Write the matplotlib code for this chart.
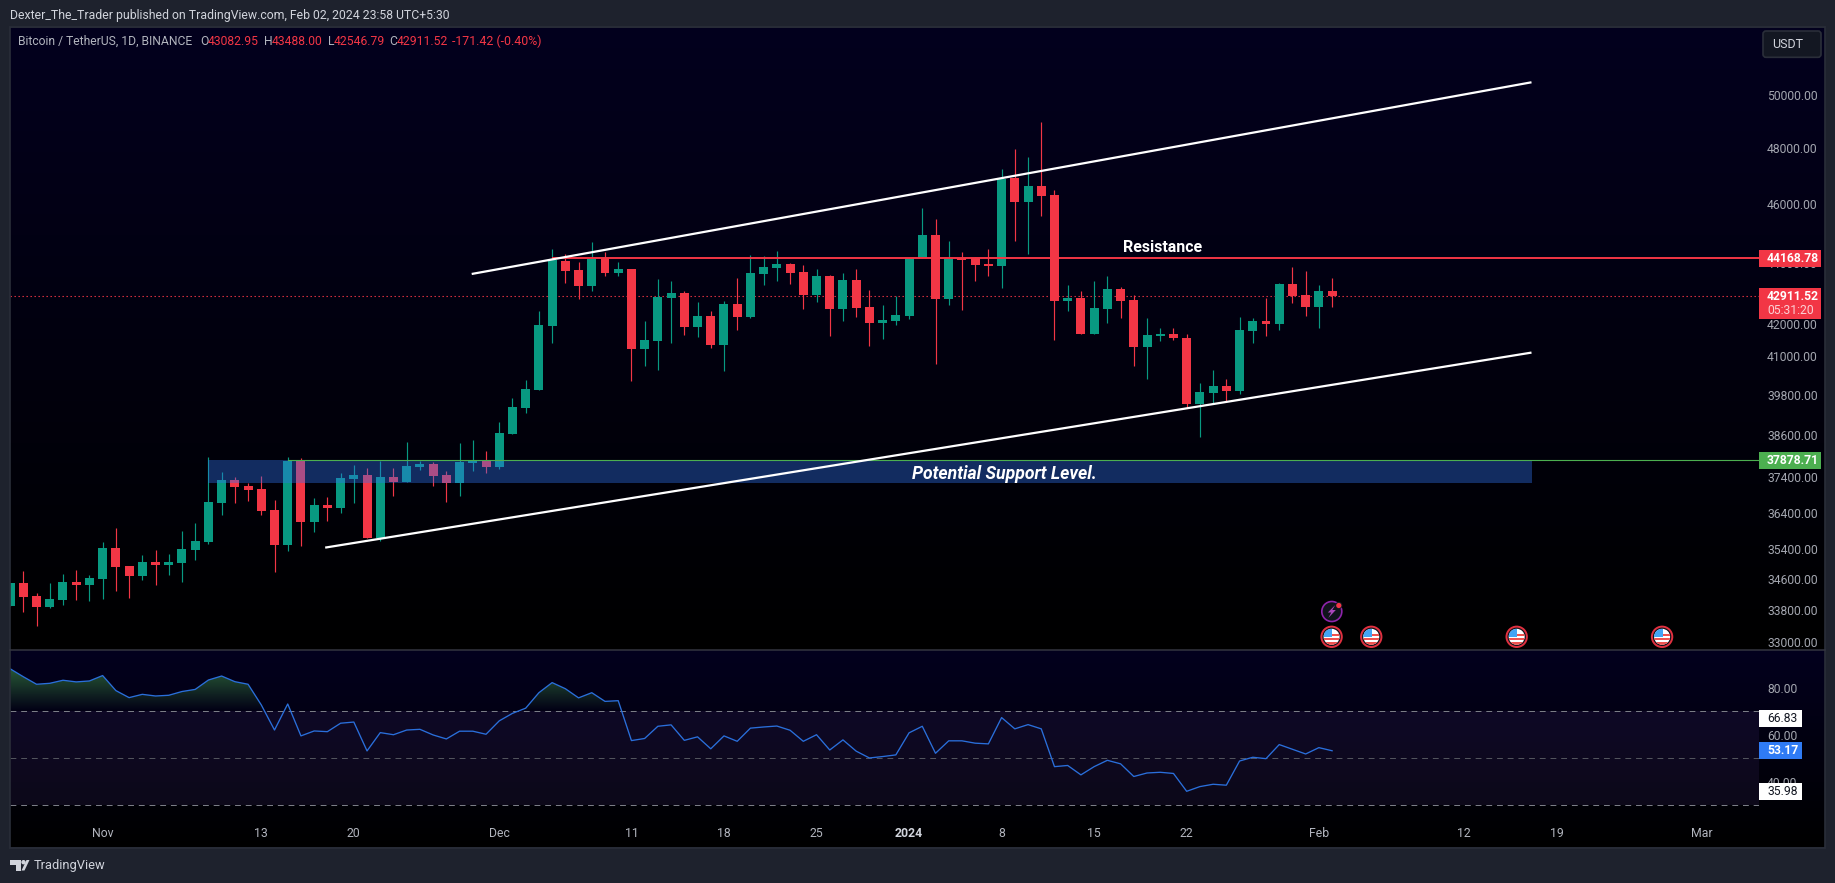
import numpy as np
import pandas as pd
import matplotlib
matplotlib.use("Agg")
import matplotlib.pyplot as plt
import matplotlib.dates as mdates
from matplotlib.patches import Circle, Rectangle, Polygon, FancyBboxPatch
from matplotlib.path import Path

plt.rcParams['font.family'] = ['Roboto', 'DejaVu Sans']

W, H = 1835, 883

# BTCUSDT daily candles
opens = [33910, 34510, 34170, 33880, 34060, 34530, 34450, 34610, 35440, 34950, 34690, 35070, 34990, 35040, 35380, 35600,
         36670, 37320, 37150, 37065, 36475, 35515, 37860, 36150, 36610, 36530, 37350, 37460, 35700, 37405, 37265, 37690,
         37775, 37460, 37235, 37800, 37860, 37690, 38645, 39415, 39950, 41950, 44073, 43775, 43245, 44170, 43675, 43808,
         41220, 41475, 42845, 43010, 41920, 42270, 41345, 42650, 42240, 43640, 43840, 43975, 43710, 42945, 43575, 42490,
         43445, 42555, 42045, 42110, 42270, 44170, 44953, 42813, 44170, 44170, 43975, 43908, 46943, 46090, 46658, 46335,
         42748, 42845, 41697, 42490, 43145, 42780, 41280, 41635, 41700, 41570, 39530, 39860, 40075, 39920, 41795, 42110,
         42015, 43310, 42945, 42555, 43082.95]
highs = [34510, 34820, 34240, 34510, 34740, 34850, 34720, 35600, 35975, 34950, 35250, 35380, 35280, 35890, 36110, 37974,
         37548, 37406, 37235, 37435, 36750, 37970, 37945, 36805, 36835, 37520, 37745, 37660, 37860, 37660, 38408, 37860,
         37830, 37575, 38380, 38470, 38145, 39000, 39711, 40265, 42430, 44470, 44305, 44040, 44708, 44370, 44040, 43808,
         42110, 43477, 43410, 43080, 42716, 42430, 42748, 43510, 44270, 44240, 44400, 44010, 43940, 43810, 43610, 43675,
         43810, 43110, 42620, 42910, 44170, 45882, 45503, 44745, 44370, 44205, 44470, 47265, 47980, 47693, 48983, 46515,
         43280, 43080, 43410, 43575, 43210, 42945, 42205, 41890, 41890, 41700, 40170, 40570, 40295, 42240, 42205, 42845,
         43345, 43875, 43740, 43280, 43488.00]
lows = [33910, 33750, 33400, 33860, 33930, 34060, 34040, 34090, 34300, 34110, 34580, 34450, 34720, 34530, 35120, 35540,
        36340, 36670, 36720, 36340, 34790, 35355, 35490, 35870, 36175, 36390, 36670, 35700, 35620, 36860, 37265, 37605,
        37150, 36695, 36860, 37575, 37520, 37635, 38645, 39265, 39950, 41410, 43345, 42813, 43080, 43576, 43576, 40234,
        40695, 40570, 41410, 41665, 41600, 41250, 40540, 41825, 42205, 43280, 43410, 43310, 42490, 42715, 41635, 42110,
        42240, 41310, 41535, 41985, 42175, 44170, 40760, 42620, 42460, 43410, 43575, 43180, 44745, 44305, 45607, 41505,
        42430, 41697, 41697, 42045, 42205, 40695, 40295, 41475, 41505, 39440, 38555, 39530, 39590, 39830, 41410, 41635,
        41825, 42685, 42270, 41890, 42546.79]
closes = [34510, 34140, 33880, 34090, 34530, 34450, 34640, 35436, 34930, 34690, 35070, 34990, 35070, 35410, 35620, 36695,
          37320, 37120, 37040, 36450, 35515, 37860, 36150, 36610, 36530, 37380, 37460, 35700, 37405, 37265, 37720, 37775,
          37435, 37235, 37830, 37860, 37690, 38675, 39440, 39990, 41985, 44106, 43742, 43245, 44140, 43675, 43808, 41218,
          41505, 42880, 43010, 41920, 42270, 41345, 42652, 42240, 43675, 43875, 43975, 43675, 42945, 43575, 42490, 43445,
          42525, 42045, 42140, 42300, 44170, 44953, 42813, 44140, 44106, 43940, 43908, 46908, 46090, 46658, 46300, 42748,
          42845, 41697, 42525, 43145, 42748, 41280, 41665, 41700, 41570, 39530, 39890, 40075, 39920, 41825, 42110, 42015,
          43310, 42910, 42555, 43080, 42911.52]

rsi = [88.1, 84.7, 81.5, 81.9, 83.2, 82.5, 82.9, 85.2, 78.8, 75.8, 77.2, 76.5, 76.8, 78.4, 79.3, 83.3, 85.0, 82.6, 81.5,
       72.7, 62.0, 73.1, 59.5, 61.6, 61.3, 64.9, 65.4, 53.1, 60.9, 60.0, 62.0, 62.3, 59.9, 58.2, 61.5, 61.5, 60.2, 65.9,
       69.1, 71.3, 77.9, 82.2, 79.6, 75.7, 77.9, 74.2, 74.5, 57.5, 58.4, 63.6, 64.2, 57.6, 59.1, 54.0, 59.5, 57.2, 62.8,
       63.3, 63.7, 61.9, 57.2, 60.0, 53.5, 57.8, 53.0, 50.1, 50.7, 51.4, 60.8, 63.6, 52.1, 57.4, 57.4, 56.4, 56.1, 67.3,
       62.5, 64.3, 62.5, 46.4, 46.9, 42.9, 46.4, 49.1, 47.6, 42.2, 43.7, 44.0, 43.5, 35.9, 37.9, 38.9, 38.5, 48.8, 50.4,
       49.8, 55.8, 53.8, 51.8, 54.5, 53.17]

dates = mdates.date2num(pd.date_range("2023-10-25", periods=len(opens)))

price_ticks = [50000, 48000, 46000, 44000, 42000, 41000, 39800, 38600, 37400, 36400, 35400, 34600, 33800, 33000]
rsi_ticks = [80, 60, 40]
rsi_bands = [70, 50, 30]
time_tick_dates = ["2023-11-01", "2023-11-13", "2023-11-20", "2023-12-01", "2023-12-11", "2023-12-18", "2023-12-25",
                   "2024-01-01", "2024-01-08", "2024-01-15", "2024-01-22", "2024-02-01", "2024-02-12", "2024-02-19",
                   "2024-03-01"]
time_tick_labels = ["Nov", "13", "20", "Dec", "11", "18", "25", "2024", "8", "15", "22", "Feb", "12", "19", "Mar"]

resistance = 44168.78
support = 37878.71
support_low = 37213
last_close = 42911.52
upper_channel = (["2023-11-28 22:00", "2024-02-17 02:00"], [43633, 50473])
lower_channel = (["2023-11-17 20:00", "2024-02-17 02:00"], [35443, 41103])
zone_dates = ["2023-11-09", "2024-02-17 02:00"]
event_dates = ["2024-02-02", "2024-02-05", "2024-02-16", "2024-02-27"]

BG = "#1e222d"
BORDER = "#2a2e39"
GREEN = "#089981"
RED = "#f23645"
TICK = "#a3a6af"

# layout in pixels
left, right_plot, right = 10, 1759, 1824.5
top, sep, bottom = 27.5, 650.3, 847.5
px_day = 13.22


def axes_px(x0, y0, x1, y1, **kw):
    return fig.add_axes([x0 / W, 1 - y1 / H, (x1 - x0) / W, (y1 - y0) / H], **kw)


def px_x(d):
    return left + 0.1 + (d - dates[0]) * px_day


def num(d):
    return mdates.date2num(pd.Timestamp(d))


fig = plt.figure(figsize=(W / 100, H / 100), dpi=100, facecolor=BG)

# background gradients
bg = axes_px(left, top, right, bottom, zorder=0)
bg.axis("off")
grad = np.zeros((int(bottom - top), 1, 3))
ys = np.arange(grad.shape[0]) + top
t1 = np.clip((ys - top) / (sep - top), 0, 1)
t2 = np.clip((ys - sep) / (bottom - sep), 0, 1)
frac = np.where(ys < sep, t1, t2)
grad[:, 0, 0] = 3 * (1 - frac) / 255
grad[:, 0, 2] = 30 * (1 - frac) / 255
bg.imshow(grad, aspect="auto", extent=[0, 1, 0, 1], interpolation="bilinear")

# price pane
ax = axes_px(left, top, right_plot, sep, zorder=1, facecolor="none")
ax.set_yscale("log")
xlim = (dates[0] - 0.1 / px_day, dates[0] + (right_plot - left - 0.1) / px_day)
ax.set_xlim(*xlim)
ax.set_ylim(32783, 52618)

ax.axhline(last_close, color=RED, lw=0.8, ls=(0, (1.2, 2.4)), zorder=1)

o, h, l, c = map(np.array, (opens, highs, lows, closes))
up = c >= o
cols = np.where(up, GREEN, RED)
ax.vlines(dates, l, h, colors=cols, lw=0.85, zorder=2)
ax.bar(dates, np.abs(c - o), bottom=np.minimum(o, c), width=0.68, color=cols, linewidth=0, zorder=3)

ax.fill_between([num(d) for d in zone_dates], support_low, support, color="#3274f0", alpha=0.38, lw=0, zorder=4)
ax.plot([dates[21], xlim[1]], [support, support], color="#4caf50", lw=0.8, zorder=5)
ax.plot([dates[41], xlim[1]], [resistance, resistance], color=RED, lw=1.4, zorder=6, solid_capstyle="butt")
for ch in (upper_channel, lower_channel):
    ax.plot([num(d) for d in ch[0]], ch[1], color="white", lw=1.6, zorder=7, solid_capstyle="butt")

ax.text(num("2024-01-20") + 0.17, 44530, "Resistance", color="white", fontsize=11.5, fontweight="bold",
        ha="center", va="center", zorder=8)
ax.text(num("2024-01-08") + 0.2, 37490, "Potential Support Level.", color="white", fontsize=12.7, fontweight="bold",
        fontstyle="italic", ha="center", va="center", zorder=8)

ax.set_yticks(price_ticks)
ax.set_yticklabels(["%.2f" % p for p in price_ticks])
ax.minorticks_off()
ax.yaxis.tick_right()
ax.tick_params(axis="y", length=0, pad=5.8, labelcolor=TICK, labelsize=8.7)
ax.set_xticks([])
for s in ax.spines.values():
    s.set_visible(False)

# RSI pane
ax2 = axes_px(left, sep, right_plot, bottom, zorder=1, facecolor="none")
ax2.set_xlim(*xlim)
ax2.set_ylim(11.96, 95.96)
ax2.fill_between(xlim, rsi_bands[2], rsi_bands[0], color="#7e57c2", alpha=0.1, lw=0, zorder=1)
for b, col in zip(rsi_bands, ["#7f828b", "#55575f", "#7f828b"]):
    ax2.axhline(b, color=col, lw=0.7, ls=(0, (6, 5)), zorder=2)

rsi_arr = np.array(rsi)
poly = ax2.fill_between(dates, 70, rsi_arr, where=rsi_arr >= 70, interpolate=True, lw=0, color="none")
clip = Path.make_compound_path(*poly.get_paths())
fade = np.zeros((64, 1, 4))
fade[..., 0], fade[..., 1], fade[..., 2] = 0.30, 0.69, 0.31
fade[:, 0, 3] = np.linspace(0.55, 0, 64)
im = ax2.imshow(fade, aspect="auto", extent=[xlim[0], xlim[1], 70, 90], zorder=1.5, interpolation="bilinear")
im.set_clip_path(clip, transform=ax2.transData)
ax2.set_xlim(*xlim)
ax2.set_ylim(11.96, 95.96)
ax2.plot(dates, rsi_arr, color="#2a6fdb", lw=0.95, zorder=3)

ax2.yaxis.tick_right()
ax2.set_yticks(rsi_ticks)
ax2.set_yticklabels(["%.2f" % v for v in rsi_ticks])
ax2.tick_params(axis="y", length=0, pad=5.8, labelcolor=TICK, labelsize=8.7)
ax2.set_xticks([num(d) for d in time_tick_dates])
ax2.set_xticklabels(time_tick_labels)
ax2.tick_params(axis="x", length=0, pad=-14.6, labelcolor="#b2b5be", labelsize=8.8)
for t in ax2.get_xticklabels():
    if t.get_text() == "2024":
        t.set_fontweight("bold")
        t.set_color("#d1d4dc")
for s in ax2.spines.values():
    s.set_visible(False)

# chrome, price labels and icons on a pixel overlay
ov = axes_px(0, 0, W, H, zorder=5, facecolor="none")
ov.set_xlim(0, W)
ov.set_ylim(H, 0)
ov.axis("off")

ov.add_patch(Rectangle((left - 0.5, top - 0.5), right - left + 1, bottom - top + 1, fill=False, ec=BORDER, lw=1.2))
ov.plot([left, right], [sep, sep], color="#33353f", lw=1.1)

ov.text(9.5, 15, "Dexter_The_Trader published on TradingView.com, Feb 02, 2024 23:58 UTC+5:30", color="#d1d4dc",
        fontsize=8.8, va="center")

ov.text(18, 41.7, "Bitcoin / TetherUS, 1D, BINANCE", color="#b2b5be", fontsize=8.7, va="center")
for lab, val, xl, xv in [("O", "43082.95", 200, 208), ("H", "43488.00", 263.6, 271.5),
                         ("L", "42546.79", 327.7, 333.6), ("C", "42911.52", 389, 396.4)]:
    ov.text(xl, 41.7, lab, color="#b2b5be", fontsize=8.7, va="center")
    ov.text(xv, 41.7, val, color=RED, fontsize=8.7, va="center")
ov.text(452, 41.7, "-171.42 (-0.40%)", color=RED, fontsize=8.9, va="center")

ov.add_patch(FancyBboxPatch((1763, 31), 58, 26.3, boxstyle="round,pad=0,rounding_size=3", fc="#131722",
                            ec="#2a2e39", lw=1.2))
ov.text(1771.7, 44.7, "USDT", color="#d1d4dc", fontsize=9, va="center")

ov.add_patch(Rectangle((1759, 250), 62, 17, fc=RED, lw=0))
ov.text(1767, 258.7, "44168.78", color="white", fontsize=8.7, fontweight="bold", va="center")
ov.add_patch(Rectangle((1759, 288), 62, 31, fc=RED, lw=0))
ov.text(1767, 296.7, "42911.52", color="white", fontsize=8.7, fontweight="bold", va="center")
ov.text(1767, 310.7, "05:31:20", color="#fbd0d4", fontsize=8.7, va="center")
ov.add_patch(Rectangle((1759, 452.3), 62, 16.7, fc="#4caf50", lw=0))
ov.text(1767, 460.8, "37878.71", color="white", fontsize=8.7, fontweight="bold", va="center")

ov.add_patch(Rectangle((1759, 710), 42.7, 17, fc="white", lw=0))
ov.text(1767, 718.7, "66.83", color="#131722", fontsize=8.7, va="center")
ov.add_patch(Rectangle((1759, 742), 42.7, 16.7, fc="#2f7bf5", lw=0))
ov.text(1767, 750.6, "53.17", color="white", fontsize=8.7, fontweight="bold", va="center")
ov.add_patch(Rectangle((1759, 783.3), 42.7, 16.7, fc="white", lw=0))
ov.text(1767, 791.7, "35.98", color="#131722", fontsize=8.7, va="center")


def flag(cx, cy):
    ov.add_patch(Circle((cx, cy), 10.2, fc="#10131b", ec="#e0303f", lw=1.4, zorder=3))
    disc = Circle((cx, cy), 8, fc="white", lw=0, zorder=4)
    ov.add_patch(disc)
    for rx, ry, rw, rh, col in [(cx - 8, cy + 1.2, 16, 2, "#ef5350"), (cx - 8, cy + 5, 16, 3, "#ef5350"),
                                (cx, cy - 3, 8, 2, "#ef5350"), (cx - 8, cy - 8, 8.5, 8, "#42a5f5")]:
        r = Rectangle((rx, ry), rw, rh, fc=col, lw=0, zorder=5)
        ov.add_patch(r)
        r.set_clip_path(disc)


for d in event_dates:
    flag(px_x(num(d)) - 0.5, 636.8)

bolt_x = px_x(num(event_dates[0])) - 0.3
ov.add_patch(Circle((bolt_x, 611.5), 10, fc="#10131b", ec="#8e24aa", lw=1.2, zorder=3))
ov.add_patch(Polygon([(bolt_x + 3.5, 605), (bolt_x - 4, 612.5), (bolt_x - 0.5, 612.5), (bolt_x - 3.5, 618),
                      (bolt_x + 4, 610), (bolt_x + 0.5, 610)], fc="#ab47bc", lw=0, zorder=4))
ov.add_patch(Circle((bolt_x + 7, 605.5), 3.6, fc="#131722", lw=0, zorder=4))
ov.add_patch(Circle((bolt_x + 7, 605.5), 2.6, fc=RED, lw=0, zorder=5))

# TradingView logo
ov.add_patch(Polygon([(10, 860), (20.5, 860), (20.5, 870.5), (15.5, 870.5), (15.5, 864.5), (10, 864.5)], fc="#d1d4dc", lw=0))
ov.add_patch(Circle((23.5, 862.2), 2.2, fc="#d1d4dc", lw=0))
ov.add_patch(Polygon([(24.5, 870.5), (29.5, 860), (26.5, 860), (21.5, 870.5)], fc="#d1d4dc", lw=0))
ov.text(33.5, 866, "TradingView", color="#d1d4dc", fontsize=9.3, va="center")

fig.savefig("out.png", dpi=100, facecolor=BG)
